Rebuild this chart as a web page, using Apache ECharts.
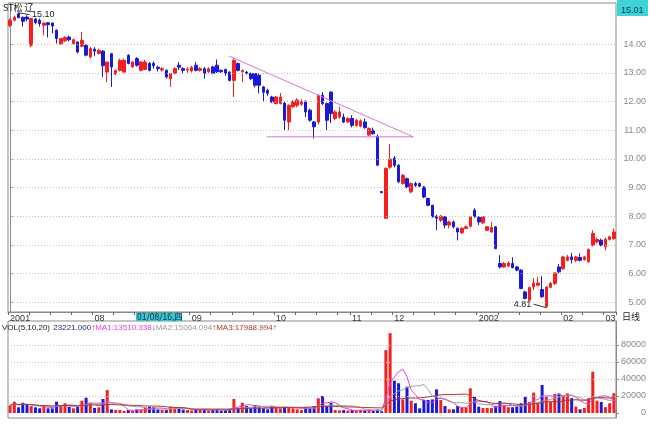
<!DOCTYPE html>
<html><head><meta charset="utf-8">
<script src="https://cdn.jsdelivr.net/npm/echarts@6/dist/echarts.min.js"></script>
<style>html,body{margin:0;padding:0;background:#fff}#c{width:651px;height:424px}</style>
</head><body><div id="c"></div>
<script>
// [open, close, low, high] per trading day
const ohlc = [
[14.66,14.84,14.6,14.9],[14.84,14.94,14.8,15.0],[15.07,14.93,14.9,15.10],[14.94,14.8,14.62,14.97],[14.95,14.88,14.8,15.01],
[13.96,14.9,13.9,14.92],[14.88,14.76,14.7,14.92],[14.84,14.72,14.62,14.9],[14.66,14.74,14.31,14.76],[14.75,14.68,14.24,14.77],
[14.74,14.64,14.38,14.76],[14.49,14.2,14.03,14.52],[14.02,14.2,13.98,14.22],[14.12,14.24,14.08,14.28],[14.25,14.16,14.1,14.3],
[14.02,14.16,14.0,14.2],[14.08,13.73,13.68,14.1],[13.93,14.14,13.9,14.43],[13.96,13.62,13.58,14.0],[13.56,13.85,13.5,13.9],
[13.83,13.76,13.58,13.9],[13.68,13.79,13.65,13.85],[13.76,13.25,12.85,13.8],[13.03,13.38,12.68,13.4],[13.67,13.21,12.51,13.7],
[12.96,13.08,12.92,13.12],[13.09,13.44,13.05,13.5],[13.03,13.44,13.0,13.5],[13.62,13.33,13.3,13.65],[13.21,13.38,13.18,13.42],
[13.5,13.27,13.22,13.55],[13.09,13.38,13.05,13.42],[13.12,13.38,13.1,13.45],[13.33,13.09,13.05,13.38],[13.33,13.25,13.15,13.4],
[13.2,13.15,13.05,13.25],[13.1,13.15,13.05,13.2],[13.09,12.86,12.8,13.12],[12.8,12.98,12.51,13.0],[12.99,13.15,12.95,13.2],
[13.27,13.2,13.1,13.38],[13.15,13.09,13.0,13.2],[13.1,13.13,13.0,13.2],[13.07,13.2,13.02,13.25],[13.27,13.09,13.05,13.38],
[13.09,13.15,13.05,13.2],[13.15,12.99,12.8,13.2],[13.04,13.15,13.0,13.2],[13.21,12.99,12.95,13.25],[13.27,13.04,13.0,13.47],
[13.09,13.04,13.0,13.12],[13.12,12.99,12.9,13.15],[13.03,12.74,12.7,13.06],[12.74,13.44,12.16,13.5],[13.33,13.09,13.05,13.36],
[13.04,13.09,12.68,13.12],[13.03,12.99,12.95,13.06],[12.98,12.8,12.75,13.02],[12.98,12.57,12.5,13.0],[12.92,12.57,12.29,12.98],
[12.51,12.33,11.98,12.55],[12.39,12.29,12.2,12.45],[12.16,11.99,11.95,12.2],[11.93,12.16,11.9,12.2],[11.93,12.16,11.9,12.3],
[11.95,11.35,11.0,12.0],[11.29,11.87,11.0,11.9],[11.82,11.99,11.78,12.05],[11.87,12.05,11.8,12.12],[11.91,11.99,11.85,12.08],
[11.99,11.64,11.46,12.05],[11.7,11.35,11.3,11.75],[11.29,11.12,10.71,11.32],[11.29,12.22,11.2,12.25],[12.22,11.93,11.88,12.33],
[11.93,11.35,11.0,11.96],[12.33,11.58,11.25,12.36],[11.41,11.64,11.35,11.7],[11.46,11.64,11.4,11.82],[11.46,11.29,11.25,11.58],
[11.29,11.41,11.25,11.45],[11.41,11.17,11.1,11.52],[11.17,11.35,11.12,11.4],[11.14,11.33,11.1,11.38],[11.29,11.09,11.05,11.41],
[10.83,11.06,10.8,11.1],[11.0,10.88,10.85,11.09],[10.79,9.78,9.75,10.85],[8.86,8.82,8.82,8.86],[7.93,9.67,7.9,9.7],
[9.71,9.99,9.65,10.51],[10.02,9.78,9.7,10.1],[9.78,9.2,9.15,9.82],[9.14,9.43,9.1,9.48],[9.31,9.02,8.98,9.35],
[8.85,9.14,8.8,9.18],[9.14,9.08,9.02,9.2],[9.14,9.05,9.0,9.17],[9.02,8.67,8.63,9.05],[8.62,8.38,8.35,8.65],
[8.38,7.98,7.95,8.4],[8.0,7.93,7.51,8.05],[7.86,8.0,7.8,8.05],[7.98,7.69,7.58,8.0],[7.69,7.8,7.58,7.85],
[7.8,7.63,7.58,7.85],[7.58,7.45,7.16,7.6],[7.42,7.58,7.38,7.62],[7.57,7.63,7.55,7.68],[7.65,7.98,7.6,8.0],
[8.21,7.98,7.95,8.28],[7.96,7.8,7.69,8.0],[7.77,7.98,7.72,8.0],[7.51,7.63,7.48,7.66],[7.45,7.61,7.42,7.8],
[7.63,6.87,6.85,7.65],[6.35,6.23,6.18,6.64],[6.23,6.35,6.2,6.4],[6.26,6.37,6.22,6.42],[6.35,6.21,6.18,6.57],
[6.23,6.12,6.08,6.26],[6.12,5.48,5.45,6.15],[5.36,5.13,5.1,5.4],[5.07,5.51,5.02,5.55],[5.53,5.67,5.42,5.84],
[5.59,5.67,5.55,5.88],[5.44,5.19,5.15,5.91],[4.84,5.53,4.81,5.55],[5.52,5.66,5.48,5.7],[5.65,6.02,5.6,6.05],
[6.23,6.06,6.0,6.33],[6.17,6.58,6.12,6.62],[6.46,6.58,6.42,6.65],[6.58,6.49,6.35,6.72],[6.46,6.58,6.4,6.62],
[6.56,6.46,6.42,6.7],[6.49,6.58,6.45,6.62],[6.41,6.84,6.38,6.88],[6.99,7.4,6.95,7.51],[7.1,7.19,7.05,7.25],
[7.16,6.99,6.95,7.22],[6.93,7.2,6.81,7.25],[7.19,7.28,7.15,7.32],[7.22,7.45,7.18,7.57]
];
const volumes = [
9000,13300,6700,12100,9400,8200,6700,5500,8200,5500,
5500,13300,9400,11400,7400,5500,7400,14500,18000,12100,
6000,6700,16500,27000,4300,3500,3500,2400,3500,2400,
4300,4300,6700,7400,6700,4300,3500,3500,7400,6700,
5500,4000,3500,3000,4000,3500,4300,3000,3500,4300,
3000,3500,5000,16500,6000,12100,8200,5500,9400,6700,
5500,4300,8200,6700,5500,7400,6700,5500,4300,3500,
6700,5500,8200,17300,20000,8200,12000,3500,3000,3500,
3000,3500,3000,3500,3000,3500,3000,4000,2000,74000,
94000,38000,35000,16000,31000,14500,11500,5500,15300,15300,
16000,27800,15300,8200,4300,4300,8200,6800,6800,29000,
19000,7500,5900,5900,5900,8200,14000,9000,6800,6800,
7500,11500,19000,12800,24000,11500,33000,19000,13000,22300,
23000,21000,23000,17500,7500,4300,6000,17500,48600,14500,
13000,6800,11500,23221
];
const monthTickIndex = [0,20,43,63,81,91,111,131,141];
const monthTickLabels = ['2001','08','09','10','11','12','2002','02','03'];
const priceTicks = [5,6,7,8,9,10,11,12,13,14];
const volumeTicks = [0,20000,40000,60000,80000];
const volumeGridLines = [20000,40000,60000,80000];
const maPeriods = [5,10,20];
const maColors = ['#e040e0','#a0a0a0','#a83a2a'];
const resistanceLine = [[51.8,13.59],[95.5,10.77]];
const supportLine = [[60.8,10.77],[95.5,10.77]];
const lowMark = [[124,4.93],[127,4.81]];
const highMark = [[2,15.10],[4.6,15.03]];

const categories = ohlc.map((_, i) => 'D' + (i + 1));
const UP = '#f42020', DOWN = '#1a1ad4';
const labelMap = {};
monthTickIndex.forEach((idx, k) => labelMap[idx] = monthTickLabels[k]);
const weekTicks = new Set();
monthTickIndex.forEach((m, k) => {
  const end = k + 1 < monthTickIndex.length ? monthTickIndex[k + 1] : ohlc.length;
  for (let t = m; t < end; t += 5) weekTicks.add(t);
});
function isUp(i) {
  const [o, c] = ohlc[i];
  if (c !== o) return c > o;
  return i > 0 ? c >= ohlc[i - 1][1] : true;
}
function movingAvg(n) {
  return volumes.map((v, i) => {
    const s = Math.max(0, i - n + 1);
    let sum = 0;
    for (let k = s; k <= i; k++) sum += volumes[k];
    return Math.round(sum / (i - s + 1));
  });
}
const FONT = 'Liberation Sans';
const chart = echarts.init(document.getElementById('c'), null, {renderer: 'canvas'});
const markLabel = (text, pos) => ({show: true, position: pos, formatter: text, fontSize: 9, color: '#222',
  opacity: 1, distance: 2, fontFamily: FONT});
const option = {
  animation: false,
  backgroundColor: '#ffffff',
  textStyle: {fontFamily: FONT},
  grid: [
    {left: 8, right: 35, top: 3, bottom: 112, show: true, borderColor: '#8a8a8a', borderWidth: 1},
    {left: 8, right: 35, top: 321, bottom: 6, show: true, borderColor: '#8a8a8a', borderWidth: 1}
  ],
  xAxis: [
    {type: 'category', gridIndex: 0, data: categories, boundaryGap: true,
     axisLine: {show: true, lineStyle: {color: '#8a8a8a'}},
     axisTick: {show: true, length: 3, lineStyle: {color: '#666'}, interval: (i) => weekTicks.has(i)},
     axisLabel: {show: true, interval: (i) => labelMap[i] !== undefined, formatter: (v, i) => labelMap[i] || '',
       align: 'left', margin: 2, fontSize: 9, color: '#333', fontFamily: FONT},
     splitLine: {show: false}},
    {type: 'category', gridIndex: 1, data: categories, boundaryGap: true,
     axisLine: {show: false}, axisTick: {show: false}, axisLabel: {show: false}, splitLine: {show: false}},
    {type: 'value', gridIndex: 0, min: -0.5, max: ohlc.length - 0.5, show: false}
  ],
  yAxis: [
    {type: 'value', gridIndex: 0, position: 'right', min: 4.658, max: 15.44, scale: true,
     axisLine: {show: true, lineStyle: {color: '#8a8a8a'}},
     axisTick: {show: true, length: 3, customValues: priceTicks, lineStyle: {color: '#8a8a8a'}},
     axisLabel: {customValues: priceTicks, formatter: (v) => Number(v).toFixed(2), align: 'right', margin: 30,
       fontSize: 9, color: '#888', fontFamily: FONT},
     splitLine: {show: false}},
    {type: 'value', gridIndex: 1, position: 'right', min: -5880, max: 108240,
     axisLine: {show: true, lineStyle: {color: '#8a8a8a'}},
     axisTick: {show: true, length: 3, customValues: volumeTicks, lineStyle: {color: '#8a8a8a'}},
     axisLabel: {customValues: volumeTicks, formatter: (v) => String(Math.round(v)), align: 'right', margin: 30,
       fontSize: 9, color: '#888', fontFamily: FONT},
     splitLine: {show: false}}
  ],
  series: [
    {type: 'candlestick', xAxisIndex: 0, yAxisIndex: 0, data: ohlc, barWidth: 3,
     itemStyle: {color: UP, color0: DOWN, borderColor: UP, borderColor0: DOWN, borderWidth: 1},
     markLine: {silent: true, symbol: 'none', animation: false, label: {show: false},
       lineStyle: {color: '#c4c4c4', type: [1, 2], width: 1},
       data: priceTicks.map(v => ({yAxis: v}))}, z: 3},
    {type: 'line', xAxisIndex: 2, yAxisIndex: 0, data: resistanceLine, symbol: 'none', silent: true,
     lineStyle: {color: '#d874d8', width: 1}, z: 4},
    {type: 'line', xAxisIndex: 2, yAxisIndex: 0, data: supportLine, symbol: 'none', silent: true,
     lineStyle: {color: '#d874d8', width: 1}, z: 4},
    {type: 'line', xAxisIndex: 2, yAxisIndex: 0, symbol: 'circle', symbolSize: 1, showSymbol: true, silent: true,
     lineStyle: {color: '#333', width: 1}, itemStyle: {color: 'rgba(0,0,0,0)'}, z: 6,
     data: [{value: lowMark[0], label: markLabel('4.81', 'left')}, {value: lowMark[1]}]},
    {type: 'line', xAxisIndex: 2, yAxisIndex: 0, symbol: 'circle', symbolSize: 1, showSymbol: true, silent: true,
     lineStyle: {color: '#333', width: 1}, itemStyle: {color: 'rgba(0,0,0,0)'}, z: 6,
     data: [{value: highMark[0]}, {value: highMark[1], label: markLabel('15.10', 'right')}]},
    {type: 'bar', xAxisIndex: 1, yAxisIndex: 1, barWidth: 3,
     data: volumes.map((v, i) => ({value: v, itemStyle: {color: isUp(i) ? UP : DOWN}})),
     markLine: {silent: true, symbol: 'none', animation: false, label: {show: false},
       lineStyle: {color: '#c4c4c4', type: [1, 2], width: 1},
       data: volumeGridLines.map(v => ({yAxis: v}))}},
    ...maPeriods.map((n, k) => ({type: 'line', xAxisIndex: 1, yAxisIndex: 1, data: movingAvg(n), symbol: 'none',
      silent: true, lineStyle: {color: maColors[k], width: 1}, z: 5}))
  ],
  graphic: [
    {type: 'text', left: 3, top: 3, z: 10, style: {text: 'ST松 辽', font: '9px "Noto Sans CJK SC"', fill: '#222'}},
    {type: 'rect', shape: {x: 617, y: 0, width: 31, height: 16}, style: {fill: '#3cd4d4'}},
    {type: 'text', left: 621, top: 6, style: {text: '15.01', font: '9px ' + FONT, fill: '#1a2a6a'}},
    {type: 'rect', shape: {x: 136, y: 313, width: 46, height: 8}, style: {fill: '#33c9c9'}},
    {type: 'text', left: 137, top: 312.5, style: {text: '01/08/16,四', font: '8.5px "Noto Sans CJK SC"', fill: '#1a2a6a'}},
    {type: 'text', left: 622, top: 312, style: {text: '日线', font: '9px "Noto Sans CJK SC"', fill: '#222'}},
    {type: 'text', left: 2, top: 322, style: {
      text: '{a|VOL(5,10,20)} {b|23221.000}{u|↑}{c|MA1:13510.338}{d|↓}{e|MA2:15064.094}{u|↑}{f|MA3:17988.994}{u|↑}',
      rich: {
        a: {fill: '#222', font: '8px ' + FONT}, b: {fill: '#1a1a80', font: '8px ' + FONT},
        u: {fill: '#d02020', font: '8px ' + FONT}, d: {fill: '#2020c0', font: '8px ' + FONT},
        c: {fill: '#e040e0', font: '8px ' + FONT}, e: {fill: '#999', font: '8px ' + FONT},
        f: {fill: '#a83a2a', font: '8px ' + FONT}
      }}}
  ]
};
chart.setOption(option);
</script></body></html>
